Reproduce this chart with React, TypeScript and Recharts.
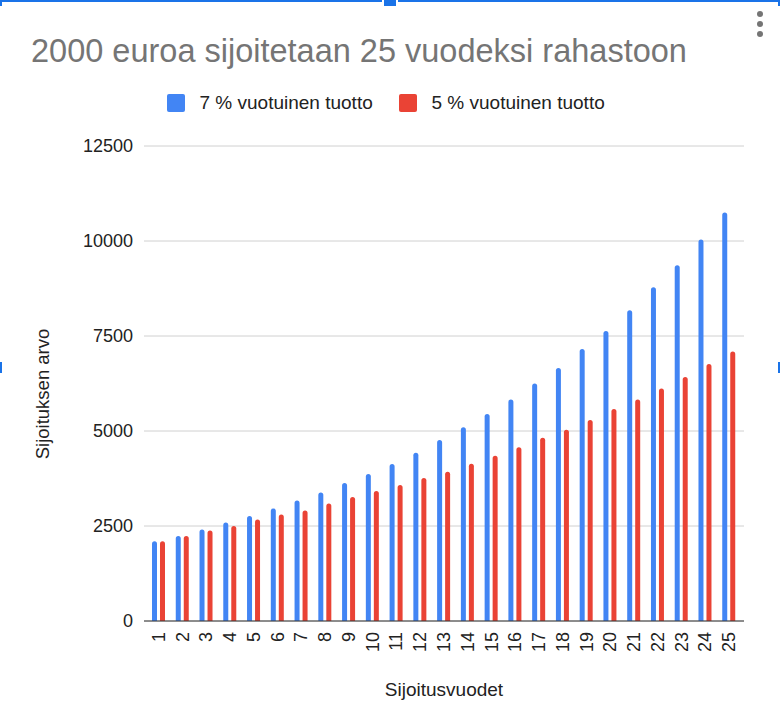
import React from "react";
import { BarChart, Bar, XAxis, YAxis, CartesianGrid, Label } from "recharts";

const years = ["1", "2", "3", "4", "5", "6", "7", "8", "9", "10", "11", "12", "13", "14", "15", "16", "17", "18", "19", "20", "21", "22", "23", "24", "25"];
const return7 = [2100, 2240, 2410, 2590, 2760, 2960, 3170, 3380, 3630, 3870, 4130, 4430, 4760, 5100, 5450, 5830, 6250, 6660, 7160, 7630, 8180, 8780, 9360, 10040, 10750];
const return5 = [2100, 2240, 2380, 2500, 2670, 2800, 2910, 3090, 3260, 3420, 3580, 3760, 3930, 4140, 4350, 4570, 4820, 5030, 5290, 5580, 5830, 6120, 6420, 6760, 7090];
const yTicks = [0, 2500, 5000, 7500, 10000, 12500];

const series = [
  { key: "r7", name: "7 % vuotuinen tuotto", color: "#4285F4" },
  { key: "r5", name: "5 % vuotuinen tuotto", color: "#EA4335" },
];

const data = years.map((year, i) => ({ year, r7: return7[i], r5: return5[i] }));

const FONT = "Arial, 'Liberation Sans', sans-serif";
const SELECT = "#1a73e8";

function XTick(props: any) {
  const { x, y, payload } = props;
  return (
    <text
      x={x}
      y={y}
      transform={`rotate(-90 ${x} ${y})`}
      textAnchor="end"
      dominantBaseline="central"
      fontSize={18}
      fontFamily={FONT}
      fill="#222"
    >
      {payload.value}
    </text>
  );
}

export default function App() {
  return (
    <div style={{ position: "absolute", left: 0, top: 0, width: 780, height: 726, background: "#fff" }}>
      <BarChart
        width={780}
        height={726}
        data={data}
        margin={{ top: 146, right: 36, bottom: 0, left: 0 }}
        barSize={5}
        barGap={3}
      >
        <CartesianGrid vertical={false} stroke="#d0d0d0" />
        <XAxis
          dataKey="year"
          height={105}
          interval={0}
          padding={{ left: 3, right: 3 }}
          tickLine={false}
          tickSize={0}
          tickMargin={11}
          axisLine={{ stroke: "#333" }}
          tick={<XTick />}
        >
          <Label
            content={(p: any) => (
              <text
                x={p.viewBox.x + p.viewBox.width / 2}
                y={689}
                textAnchor="middle"
                dominantBaseline="central"
                fontSize={19}
                fontFamily={FONT}
                fill="#222"
              >
                Sijoitusvuodet
              </text>
            )}
          />
        </XAxis>
        <YAxis
          width={144}
          domain={[0, 12500]}
          ticks={yTicks}
          interval={0}
          axisLine={false}
          tickLine={false}
          tickSize={0}
          tickMargin={11}
          tick={{ fontSize: 18, fontFamily: FONT, fill: "#222" }}
        >
          <Label
            content={() => (
              <text
                x={42}
                y={394}
                transform="rotate(-90 42 394)"
                textAnchor="middle"
                dominantBaseline="central"
                fontSize={18.5}
                fontFamily={FONT}
                fill="#222"
              >
                Sijoituksen arvo
              </text>
            )}
          />
        </YAxis>
        {series.map((s) => (
          <Bar
            key={s.key}
            dataKey={s.key}
            name={s.name}
            fill={s.color}
            radius={[2.5, 2.5, 0, 0]}
            isAnimationActive={false}
          />
        ))}
      </BarChart>

      <svg
        width={780}
        height={726}
        style={{ position: "absolute", left: 0, top: 0, pointerEvents: "none" }}
      >
        <text x={31} y={61.5} fontSize={32.5} fontFamily={FONT} fill="#757575">
          2000 euroa sijoitetaan 25 vuodeksi rahastoon
        </text>

        {series.map((s, i) => {
          const x0 = i === 0 ? 167 : 399;
          return (
            <g key={s.key}>
              <rect x={x0} y={94} width={18} height={18} rx={2} fill={s.color} />
              <text
                x={x0 + 32.5}
                y={102}
                dominantBaseline="central"
                fontSize={19}
                fontFamily={FONT}
                fill="#222"
              >
                {s.name}
              </text>
            </g>
          );
        })}

        {[14, 24, 34].map((cy) => (
          <circle key={cy} cx={760} cy={cy} r={3} fill="#757575" />
        ))}

        <rect x={0} y={0} width={382} height={2} fill={SELECT} />
        <rect x={398} y={0} width={380} height={2} fill={SELECT} />
        <rect x={384} y={0} width={12} height={6} fill={SELECT} />
        <rect x={778} y={0} width={2} height={6} fill={SELECT} />
        <rect x={0} y={0} width={2} height={6} fill={SELECT} />
        <rect x={0} y={362} width={2} height={11} fill={SELECT} />
        <rect x={778} y={362} width={2} height={11} fill={SELECT} />
      </svg>
    </div>
  );
}
